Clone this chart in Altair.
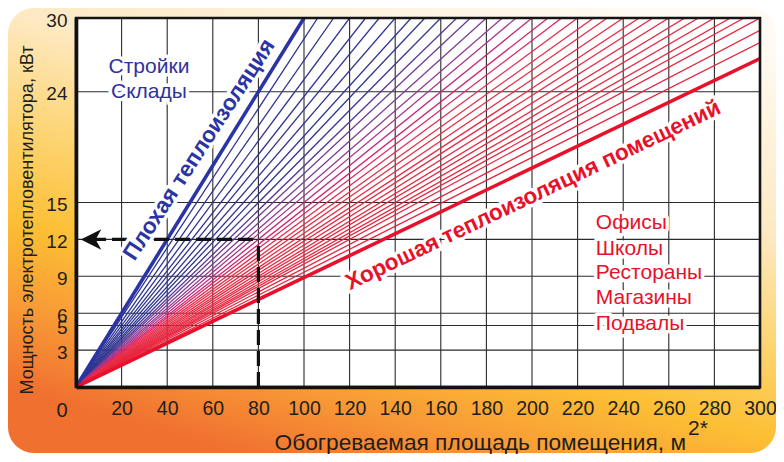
import altair as alt
import pandas as pd

# ---------------- data ----------------
x_ticks = [0, 20, 40, 60, 80, 100, 120, 140, 160, 180, 200, 220, 240, 260, 280, 300]
y_ticks = [3, 5, 6, 9, 12, 15, 24, 30]
grid_x = [20, 40, 60, 80, 100, 120, 140, 160, 180, 200, 220, 240, 260, 280]
grid_y = [3, 5, 6, 9, 12, 15, 24]

# end points of the thin fan lines
fan_top_x = [106, 113, 120, 127, 133, 140, 147, 153, 160, 167, 173, 180, 187, 193,
             200, 207, 213, 220, 227, 233, 240, 247, 253, 260, 267, 273, 280, 287, 293, 300]
fan_right_y = [29.0, 28.0]

poor_end = [100, 30.0]     # "Плохая теплоизоляция"
good_end = [300, 26.7]     # "Хорошая теплоизоляция помещений"

example_area = 80
example_power = 12
arrow_x = 6.6

FONT = "Liberation Sans"
W, H = 684, 369
PAD = {"left": 68, "top": 10, "right": 16, "bottom": 67}

# ---------------- tables ----------------
rows = []
ends = [(x, 30.0) for x in fan_top_x] + [(300, y) for y in fan_right_y]
for i, (ex, ey) in enumerate(ends):
    s = ey / ex
    rows.append({"id": i, "x": 0, "y": 0, "slope": s})
    rows.append({"id": i, "x": ex, "y": ey, "slope": s})
fan_df = pd.DataFrame(rows)

thick_df = pd.DataFrame([
    {"id": "poor", "x": 0, "y": 0}, {"id": "poor", "x": poor_end[0], "y": poor_end[1]},
    {"id": "good", "x": 0, "y": 0}, {"id": "good", "x": good_end[0], "y": good_end[1]},
])

xs = alt.Scale(domain=[0, 300], nice=False)
ys = alt.Scale(domain=[0, 30], nice=False)
one = pd.DataFrame({"a": [0]})

bg = alt.Chart(one).mark_rect(
    cornerRadius=26,
    color=alt.Gradient(
        gradient="linear",
        x1=0.8, y1=0, x2=0.3, y2=1,
        stops=[
            alt.GradientStop(offset=0, color="#fffaf3"),
            alt.GradientStop(offset=0.33, color="#fde9c2"),
            alt.GradientStop(offset=0.53, color="#fdd472"),
            alt.GradientStop(offset=0.7, color="#fcbf34"),
            alt.GradientStop(offset=0.85, color="#f89a36"),
            alt.GradientStop(offset=1, color="#f07030"),
        ],
    ),
).encode(x=alt.value(-PAD["left"]), x2=alt.value(W + PAD["right"]),
         y=alt.value(-PAD["top"]), y2=alt.value(H + PAD["bottom"] - 1))

plot_bg = alt.Chart(one).mark_rect(color="white").encode(
    x=alt.value(0), x2=alt.value(W), y=alt.value(0), y2=alt.value(H))

gx = alt.Chart(pd.DataFrame({"v": grid_x})).mark_rule(color="#2a2a2a", strokeWidth=1.1).encode(
    x=alt.X("v:Q", scale=xs))
gy = alt.Chart(pd.DataFrame({"v": grid_y})).mark_rule(color="#2a2a2a", strokeWidth=1.1).encode(
    y=alt.Y("v:Q", scale=ys))

fan = alt.Chart(fan_df).mark_line(strokeWidth=1.3, clip=True).encode(
    x=alt.X("x:Q", scale=xs),
    y=alt.Y("y:Q", scale=ys),
    detail="id:N",
    color=alt.Color("slope:Q", legend=None,
                    scale=alt.Scale(domain=[0.08, 0.135, 0.162, 0.19, 0.31],
                                    range=["#e81c36", "#e8304a", "#8a3f92", "#2f3590", "#2f3590"])),
)

thick = alt.Chart(thick_df).mark_line(strokeWidth=3.6, clip=True).encode(
    x=alt.X("x:Q", scale=xs),
    y=alt.Y("y:Q", scale=ys),
    detail="id:N",
    color=alt.Color("id:N", legend=None,
                    scale=alt.Scale(domain=["poor", "good"], range=["#2a34a4", "#e8102a"])),
)

ex_df = pd.DataFrame({"x0": [arrow_x], "x": [example_area], "y0": [0], "y": [example_power]})
hdash = alt.Chart(ex_df).mark_rule(color="#111", strokeWidth=3.2, strokeDash=[15, 6]).encode(
    x=alt.X("x0:Q", scale=xs), x2="x:Q", y=alt.Y("y:Q", scale=ys))
vdash = alt.Chart(ex_df).mark_rule(color="#111", strokeWidth=3.2, strokeDash=[15, 6]).encode(
    x=alt.X("x:Q", scale=xs), y=alt.Y("y0:Q", scale=ys), y2="y:Q")
arrow = alt.Chart(ex_df).mark_point(
    shape="M -1 0 L 1 -1 L 0.45 0 L 1 1 Z", filled=True, color="#111", size=420, opacity=1
).encode(x=alt.X("x0:Q", scale=xs), y=alt.Y("y:Q", scale=ys))


def label(df, color, size, weight="normal", angle=0, align="center", halo=7):
    base = alt.Chart(df).encode(x=alt.X("x:Q", scale=xs), y=alt.Y("y:Q", scale=ys), text="t:N")
    h = base.mark_text(font=FONT, fontSize=size, fontWeight=weight, angle=angle, align=align,
                       baseline="middle", color="white", stroke="white", strokeWidth=halo,
                       strokeJoin="round")
    f = base.mark_text(font=FONT, fontSize=size, fontWeight=weight, angle=angle, align=align,
                       baseline="middle", color=color)
    return [h, f]


blue_lbl = pd.DataFrame({"t": ["Стройки", "Склады"], "x": [32, 32], "y": [26.0, 24.0]})
red_lbl = pd.DataFrame({"t": ["Офисы", "Школы", "Рестораны", "Магазины", "Подвалы"],
                        "x": [228] * 5, "y": [13.3, 11.2, 9.3, 7.2, 5.1]})
poor_lbl = pd.DataFrame({"t": ["Плохая теплоизоляция"], "x": [54.0], "y": [19.3]})
good_lbl = pd.DataFrame({"t": ["Хорошая теплоизоляция помещений"], "x": [200.5], "y": [15.6]})

labels = []
labels += label(blue_lbl, "#30339a", 21)
labels += label(red_lbl, "#e8102a", 21, align="left")
labels += label(poor_lbl, "#2a34a4", 22.5, weight="bold", angle=303)
labels += label(good_lbl, "#e8102a", 22.5, weight="bold", angle=334.5)

frame = alt.Chart(one).mark_rect(fillOpacity=0, stroke="#151515", strokeWidth=2.6).encode(
    x=alt.value(0), x2=alt.value(W), y=alt.value(0), y2=alt.value(H))

axes = alt.Chart(one).mark_point(opacity=0).encode(
    x=alt.X("a:Q", scale=xs, axis=alt.Axis(
        values=x_ticks, grid=False, ticks=False, domainColor="#111", domainWidth=3.6,
        labelFont=FONT, labelFontSize=19.5, labelColor="#1e1e1e", labelPadding=12,
        labelExpr="datum.value == 0 ? '' : datum.label", labelOverlap=False,
        labelFlush=False, title=None, zindex=1)),
    y=alt.Y("a:Q", scale=ys, axis=alt.Axis(
        values=y_ticks, grid=False, ticks=False, domainColor="#111", domainWidth=3.6,
        labelFont=FONT, labelFontSize=19, labelColor="#1e1e1e", labelPadding=9,
        labelOffset=2, labelFlush=False, labelOverlap=False, title=None, zindex=1)),
)

zero = alt.Chart(pd.DataFrame({"x": [0], "y": [0], "t": ["0"]})).mark_text(
    font=FONT, fontSize=20, color="#1e1e1e", dx=-14, dy=24, baseline="middle").encode(
    x=alt.X("x:Q", scale=xs), y=alt.Y("y:Q", scale=ys), text="t:N")

xtitle = alt.Chart(one).mark_text(
    text="Обогреваемая площадь помещения, м", font=FONT, fontSize=22.7, color="#1e1e1e",
    align="right", baseline="middle").encode(x=alt.value(610), y=alt.value(425))
xsup = alt.Chart(one).mark_text(
    text="2*", font=FONT, fontSize=21, color="#1e1e1e",
    align="left", baseline="middle").encode(x=alt.value(612), y=alt.value(411))
ytitle = alt.Chart(one).mark_text(
    text="Мощность электротепловентилятора, кВт", font=FONT, fontSize=18, color="#1e1e1e",
    angle=270, align="center", baseline="middle").encode(x=alt.value(-48), y=alt.value(202))

chart = alt.layer(
    bg, plot_bg, gx, gy, fan, thick, hdash, vdash, arrow, *labels, frame, axes, zero,
    xtitle, xsup, ytitle,
).properties(
    width=W, height=H,
    autosize=alt.AutoSizeParams(type="none"),
    padding=PAD,
    background="white",
).configure_view(stroke=None)

chart.save("out.html", embed_options={"renderer": "svg", "actions": False})
